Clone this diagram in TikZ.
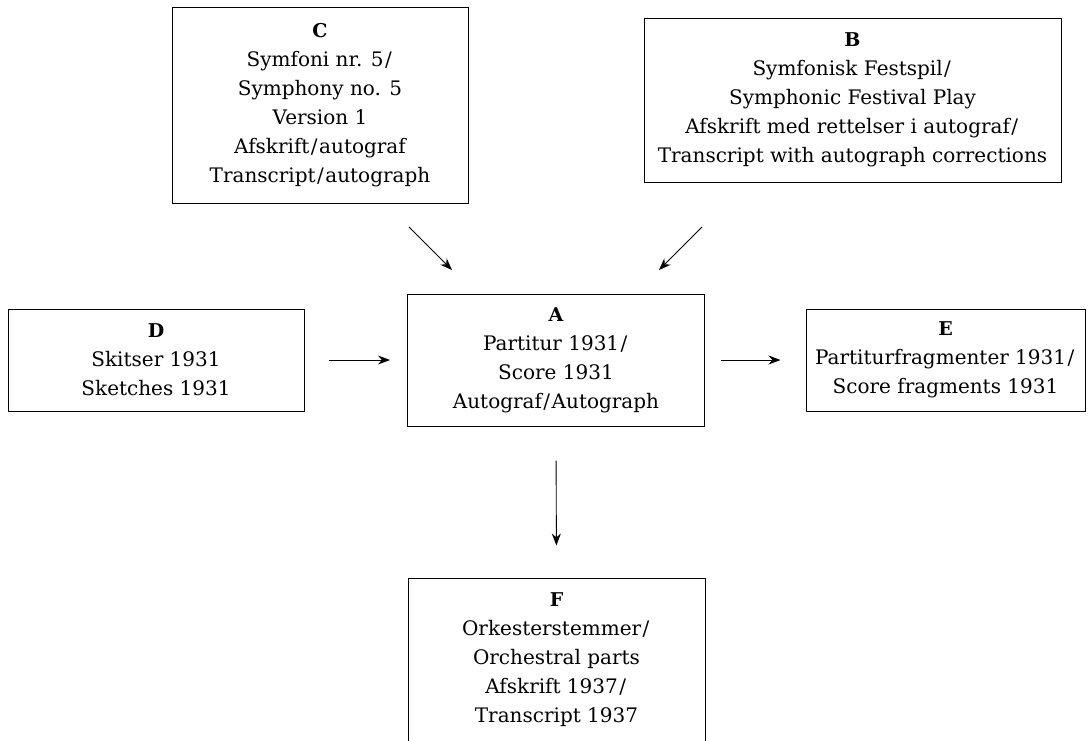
\documentclass[tikz,border=0pt]{standalone}
\usepackage{fontspec}
\setmainfont{DejaVu Serif}
\usetikzlibrary{arrows.meta}
\newcommand{\lbl}[1]{{\fontsize{19}{29}\selectfont\bfseries #1}}
\newcommand{\slsh}{\kern1.5pt/\kern1.5pt}
\begin{document}
\begin{tikzpicture}[x=1pt,y=-1pt,
  box/.style={draw, line width=1pt, align=center, inner sep=0pt,
    font=\fontsize{20}{29}\selectfont},
  arr/.style={-{Stealth[length=12pt,width=9pt]}, line width=0.9pt}]
\useasboundingbox (0,0) rectangle (1090,740);
\node[box, minimum width=296pt, minimum height=196pt] (C) at (320,105.5)
  {\lbl{C}\\Symfoni nr. 5\slsh\\Symphony no. 5\\Version 1\\Afskrift\slsh autograf\\Transcript\slsh autograph};
\node[box, minimum width=417pt, minimum height=164pt] (B) at (852.5,100)
  {\lbl{B}\\Symfonisk Festspil\slsh\\Symphonic Festival Play\\Afskrift med rettelser i autograf\slsh\\Transcript with autograph corrections};
\node[box, minimum width=297pt, minimum height=132pt] (A) at (556,360)
  {\lbl{A}\\Partitur 1931\slsh\\Score 1931\\Autograf\slsh Autograph};
\node[box, minimum width=296pt, minimum height=102pt] (D) at (156,360)
  {\lbl{D}\\Skitser 1931\\Sketches 1931};
\node[box, minimum width=279pt, minimum height=102pt] (E) at (945.5,360)
  {\lbl{E}\\Partiturfragmenter 1931\slsh\\Score fragments 1931};
\node[box, minimum width=297pt, minimum height=164pt] (F) at (556.5,660)
  {\lbl{F}\\Orkesterstemmer\slsh\\Orchestral parts\\Afskrift 1937\slsh\\Transcript 1937};
\coordinate (c1) at (409,227);
\coordinate (c2) at (452,270);
\coordinate (b1) at (702,227);
\coordinate (b2) at (659,270);
\draw[arr] (c1) -- (c2);
\draw[arr] (b1) -- (b2);
\draw[arr, shorten <=24pt, shorten >=17pt] (D.east) -- (A.west);
\draw[arr, shorten <=16pt, shorten >=25pt] (A.east) -- (E.west);
\draw[arr, shorten <=34pt, shorten >=32pt] (A.south) -- (F.north);
\end{tikzpicture}
\end{document}
